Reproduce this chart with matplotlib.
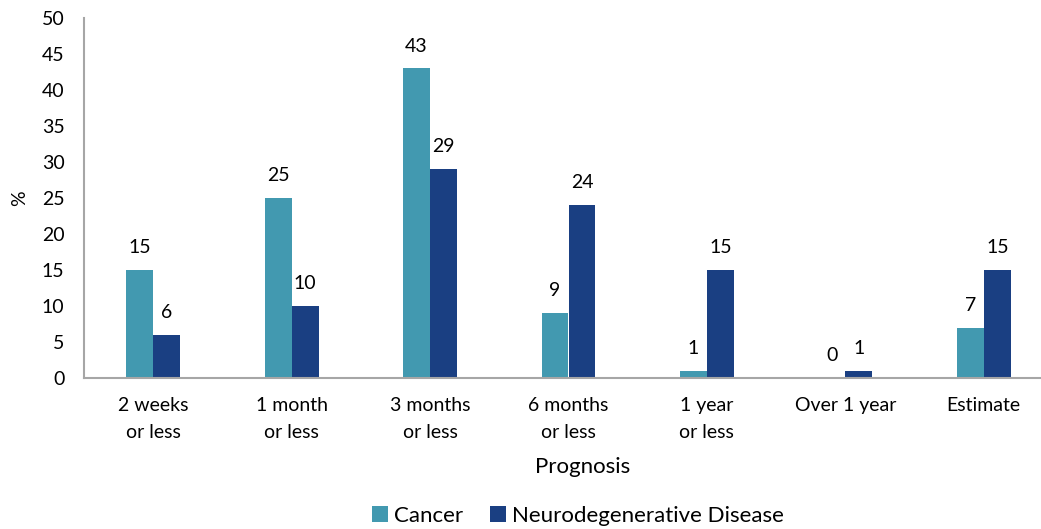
import matplotlib.pyplot as plt
import numpy as np

plt.rcParams['font.family'] = ['Lato', 'DejaVu Sans']

categories = ["2 weeks\nor less", "1 month\nor less", "3 months\nor less",
              "6 months\nor less", "1 year\nor less", "Over 1 year", "Estimate"]
cancer = [15, 25, 43, 9, 1, 0, 7]
neuro = [6, 10, 29, 24, 15, 1, 15]

c_cancer = "#4299B0"
c_neuro = "#1A3F82"

fig = plt.figure(figsize=(10.41, 5.29), dpi=100)
# plot area runs a little past the right edge of the image, as in the source
ax = fig.add_axes([84 / 1041, 1 - 378 / 529, (1053 - 84) / 1041, (378 - 18) / 529])

x = np.arange(len(categories))
w = 0.195
b1 = ax.bar(x - w / 2, cancer, w, color=c_cancer, label="Cancer")
b2 = ax.bar(x + w / 2, neuro, w, color=c_neuro, label="Neurodegenerative Disease")

for bars, vals in ((b1, cancer), (b2, neuro)):
    for r, v in zip(bars, vals):
        ax.text(r.get_x() + r.get_width() / 2, v + 3.1, str(v),
                ha="center", va="center", fontsize=14, color="#000000")

ax.set_xlim(-0.5, len(categories) - 0.5)
ax.set_ylim(0, 50)
ax.set_yticks(range(0, 51, 5))
ax.set_xticks(x)
ax.set_xticklabels(categories, fontsize=14, linespacing=1.65)
ax.tick_params(axis="y", labelsize=14, length=0, pad=14)
ax.tick_params(axis="x", length=0, pad=14)

for s in ("top", "right"):
    ax.spines[s].set_visible(False)
for s in ("left", "bottom"):
    ax.spines[s].set_color("#A6A6A6")
    ax.spines[s].set_linewidth(1.5)

ax.set_xlabel("Prognosis", fontsize=16)
ax.xaxis.set_label_coords((583 - 84) / 969, (378 - 467) / 360)
ax.xaxis.label.set_va("center")
ax.set_ylabel("%", fontsize=14, labelpad=10)

fig.legend(loc="center", bbox_to_anchor=(578 / 1041, 1 - 516 / 529), ncol=2,
           frameon=False, fontsize=16, handlelength=0.7, handleheight=0.7,
           handletextpad=0.3, columnspacing=1.2)

fig.savefig("out.png", dpi=100)
